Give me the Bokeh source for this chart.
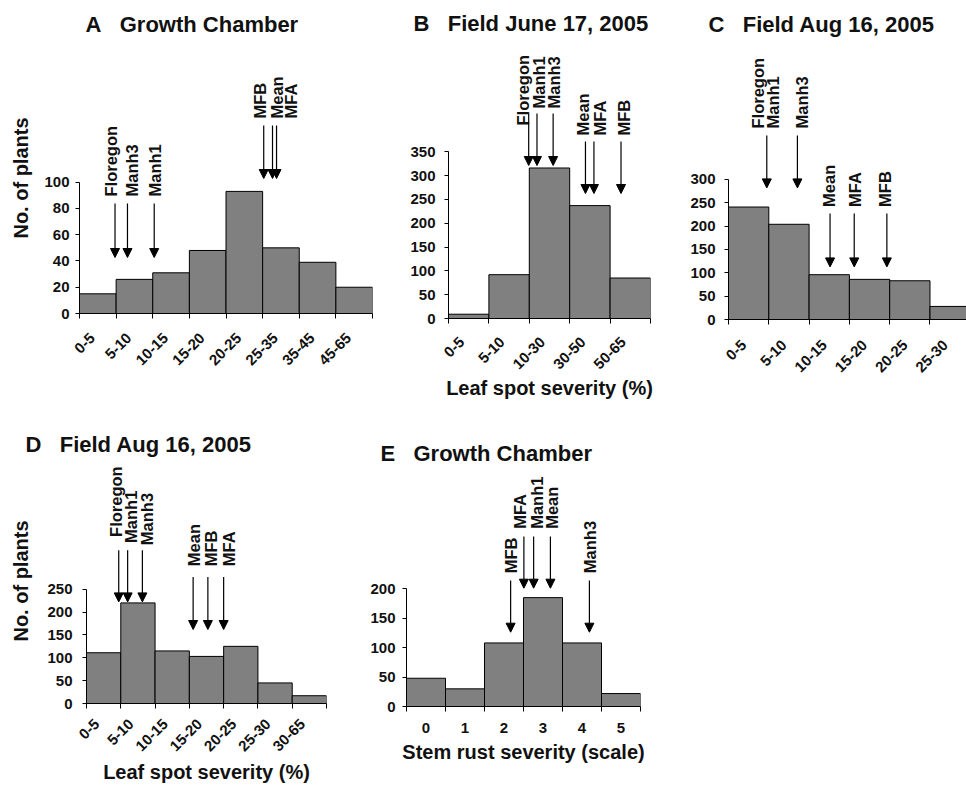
from math import pi
from bokeh.plotting import figure
from bokeh.layouts import row, column
from bokeh.models import (FixedTicker, CustomJSTickFormatter, Arrow, NormalHead,
                          ColumnDataSource, Range1d)
from bokeh.core.properties import value
from bokeh.embed import file_html
from bokeh.resources import INLINE

FONT = "Liberation Sans"

# ---------------- data ----------------
A_cats = ["0-5", "5-10", "10-15", "15-20", "20-25", "25-35", "35-45", "45-65"]
A_counts = [15, 26, 31, 48, 93, 50, 39, 20]
A_marks = ["Floregon", "Manh3", "Manh1", "MFB", "Mean", "MFA"]
A_mark_pos = [0.97, 1.31, 2.04, 5.03, 5.27, 5.38]      # in class-width units
A_yticks = [0, 20, 40, 60, 80, 100]

B_cats = ["0-5", "5-10", "10-30", "30-50", "50-65"]
B_counts = [9, 92, 316, 237, 85]
B_marks = ["Floregon", "Manh1", "Manh3", "Mean", "MFA", "MFB"]
B_mark_pos = [1.985, 2.19, 2.59, 3.39, 3.60, 4.27]
B_yticks = [0, 50, 100, 150, 200, 250, 300, 350]

C_cats = ["0-5", "5-10", "10-15", "15-20", "20-25", "25-30"]
C_counts = [241, 204, 96, 86, 83, 28]
C_marks = ["Floregon\nManh1", "Manh3", "Mean", "MFA", "MFB"]
C_mark_pos = [0.95, 1.71, 2.52, 3.12, 3.93]
C_yticks = [0, 50, 100, 150, 200, 250, 300]

D_cats = ["0-5", "5-10", "10-15", "15-20", "20-25", "25-30", "30-65"]
D_counts = [111, 220, 115, 103, 125, 45, 17]
D_marks = ["Floregon", "Manh1", "Manh3", "Mean", "MFB", "MFA"]
D_mark_pos = [0.94, 1.20, 1.63, 3.11, 3.54, 4.00]
D_yticks = [0, 50, 100, 150, 200, 250]

E_cats = ["0", "1", "2", "3", "4", "5"]
E_counts = [48, 30, 108, 185, 108, 22]
E_marks = ["MFB", "MFA", "Manh1", "Mean", "Manh3"]
E_mark_pos = [2.67, 3.01, 3.26, 3.69, 4.69]
E_yticks = [0, 50, 100, 150, 200]

# ---------------- styling / layout ----------------
TXT = "#111111"
NB = "\u00a0\u00a0\u00a0"


def make_panel(title, cats, counts, marks, mark_pos, yticks, st):
    n = len(cats)
    ppu = st["ppu"]
    frame_h = st["h"] - st["bt"] - st["bb"]
    y_end = frame_h / ppu
    p = figure(width=st["w"], height=st["h"],
               x_range=Range1d(0, st["x_end"]), y_range=Range1d(0, y_end),
               output_backend="svg", toolbar_location=None,
               min_border_left=st["bl"], min_border_right=st["br"],
               min_border_top=st["bt"], min_border_bottom=st["bb"])
    p.outline_line_color = None
    p.xgrid.grid_line_color = None
    p.ygrid.grid_line_color = None
    p.background_fill_color = "white"
    p.border_fill_color = "white"

    p.title.text = title
    p.title.text_font = FONT
    p.title.text_font_style = "bold"
    p.title.text_font_size = "22px"
    p.title.text_color = TXT
    p.title.align = "left"
    p.title.offset = st["toff"]
    p.title.standoff = st["tstand"]

    # bars
    p.quad(left=list(range(n)), right=[i + 1 for i in range(n)], bottom=0, top=counts,
           fill_color="#808080", line_color="black", line_width=1)

    # x axis: tick marks at class boundaries, labels near class centres
    xa = p.xaxis[0]
    xa.ticker = FixedTicker(ticks=[i + st["lshift"] for i in range(n)],
                            minor_ticks=list(range(n + 1)))
    xa.formatter = CustomJSTickFormatter(
        args=dict(labels=cats, shift=st["lshift"]),
        code="const i = Math.round(tick - shift); return (i >= 0 && i < labels.length) ? labels[i] : '';")
    xa.major_tick_line_color = None
    xa.minor_tick_out = 5
    xa.minor_tick_in = 0
    xa.minor_tick_line_color = "black"
    xa.axis_line_color = "black"
    xa.major_label_text_font = FONT
    xa.major_label_text_font_style = "bold"
    xa.major_label_text_font_size = "15px"
    xa.major_label_text_color = TXT
    xa.major_label_standoff = st["xls"]
    if st["rot"]:
        xa.major_label_orientation = pi / 4
    if st.get("xlabel"):
        xa.axis_label = st["xlabel"]
        xa.axis_label_text_font = FONT
        xa.axis_label_text_font_style = "bold"
        xa.axis_label_text_font_size = "20px"
        xa.axis_label_text_color = TXT
        xa.axis_label_standoff = st["xas"]

    # y axis
    ya = p.yaxis[0]
    ya.ticker = FixedTicker(ticks=yticks)
    ya.bounds = (0, yticks[-1])
    ya.axis_line_color = "black"
    ya.major_tick_in = 0
    ya.major_tick_out = 4
    ya.major_tick_line_color = "black"
    ya.minor_tick_line_color = None
    ya.major_label_text_font = FONT
    ya.major_label_text_font_style = "bold"
    ya.major_label_text_font_size = "15px"
    ya.major_label_text_color = TXT
    ya.major_label_standoff = st["yls"]
    if st.get("ylabel"):
        ya.axis_label = st["ylabel"]
        ya.axis_label_text_font = FONT
        ya.axis_label_text_font_style = "bold"
        ya.axis_label_text_font_size = "20px"
        ya.axis_label_text_color = TXT
        ya.axis_label_standoff = st["yas"]

    # arrows
    asrc = ColumnDataSource(dict(
        x=mark_pos,
        y0=[v / ppu for v in st["atop"]],
        y1=[v / ppu for v in st["atip"]]))
    p.add_layout(Arrow(end=NormalHead(size=9, fill_color="black", line_color="black"),
                       x_start="x", y_start="y0", x_end="x", y_end="y1",
                       line_color="black", line_width=1.2, source=asrc))

    # labels
    lx, ly, lt, lo = [], [], [], []
    for k, name in enumerate(marks):
        lines = name.split("\n")
        m = len(lines)
        for j, t in enumerate(lines):
            lx.append(mark_pos[k])
            ly.append(st["lbot"][k] / ppu)
            lt.append(t)
            lo.append(st["ldx"][k] + (j - (m - 1) / 2) * 15.5)
    p.text(x="x", y="y", text="t", x_offset="o",
           source=ColumnDataSource(dict(x=lx, y=ly, t=lt, o=lo)),
           angle=pi / 2, text_align="left", text_baseline="middle",
           text_font=value(FONT), text_font_style="bold", text_font_size="16.5px",
           text_color=TXT)
    return p


stA = dict(w=380, h=420, bl=79, br=8, bt=42, bb=107, ppu=1.313, x_end=8,
           toff=6, tstand=11.5, lshift=0.35, xls=16, rot=True, yls=6,
           ylabel="No. of plants", yas=9,
           atop=[110] * 3 + [188] * 3, atip=[56] * 3 + [135] * 3,
           lbot=[117] * 3 + [195] * 3, ldx=[-4, 5, 1, -4, 4, 14])
stB = dict(w=280, h=420, bl=68, br=10, bt=42, bb=102, ppu=0.4763, x_end=5,
           toff=-35, tstand=14, lshift=0.33, xls=15, rot=True, yls=9,
           xlabel="Leaf spot severity (%)", xas=0,
           atop=[205] * 3 + [177] * 3, atip=[153] * 3 + [125] * 3,
           lbot=[193, 210, 210, 183, 183, 183], ldx=[-6, 2, 1, -2, 6, 3])
stC = dict(w=306, h=420, bl=68, br=0, bt=42, bb=101, ppu=0.4667, x_end=5.906,
           toff=-20, tstand=12, lshift=0.38, xls=17, rot=True, yls=9,
           atop=[184] * 2 + [106] * 3, atip=[131.6] * 2 + [52.6] * 3,
           lbot=[191] * 2 + [112.6] * 3, ldx=[-1.5, 5, -1.5, 1, -2])
stD = dict(w=340, h=368, bl=86, br=14, bt=38, bb=85, ppu=0.4572, x_end=7,
           toff=-61, tstand=3, lshift=0.30, xls=12, rot=True, yls=10,
           ylabel="No. of plants", yas=12,
           xlabel="Leaf spot severity (%)", xas=2,
           atop=[153.3] * 3 + [126.6] * 3, atip=[101.6] * 3 + [74] * 3,
           lbot=[166.6, 160.6, 158.3, 137.3, 137.3, 137.3], ldx=[-3, 3, 5, 1, 3, 5])
stE = dict(w=320, h=368, bl=66, br=20, bt=38, bb=82, ppu=0.5885, x_end=6,
           toff=-26, tstand=-15, lshift=0.5, xls=10, rot=False, yls=7,
           xlabel="Stem rust severity (scale)", xas=5,
           atop=[126, 170, 170, 170, 126], atip=[74.3, 118.3, 118.3, 118.3, 74.3],
           lbot=[133.3, 177.7, 177.7, 177.7, 133.3], ldx=[0, -4, 3, 2, 1])

pA = make_panel("A" + NB + "Growth Chamber", A_cats, A_counts, A_marks, A_mark_pos, A_yticks, stA)
pB = make_panel("B" + NB + "Field June 17, 2005", B_cats, B_counts, B_marks, B_mark_pos, B_yticks, stB)
pC = make_panel("C" + NB + "Field Aug 16, 2005", C_cats, C_counts, C_marks, C_mark_pos, C_yticks, stC)
pD = make_panel("D" + NB + "Field Aug 16, 2005", D_cats, D_counts, D_marks, D_mark_pos, D_yticks, stD)
pE = make_panel("E" + NB + "Growth Chamber", E_cats, E_counts, E_marks, E_mark_pos, E_yticks, stE)

layout = column(row(column(pA), column(pB), column(pC), spacing=0),
                row(column(pD), column(pE), spacing=0), spacing=0)

open("out.html", "w").write(file_html(layout, INLINE))
